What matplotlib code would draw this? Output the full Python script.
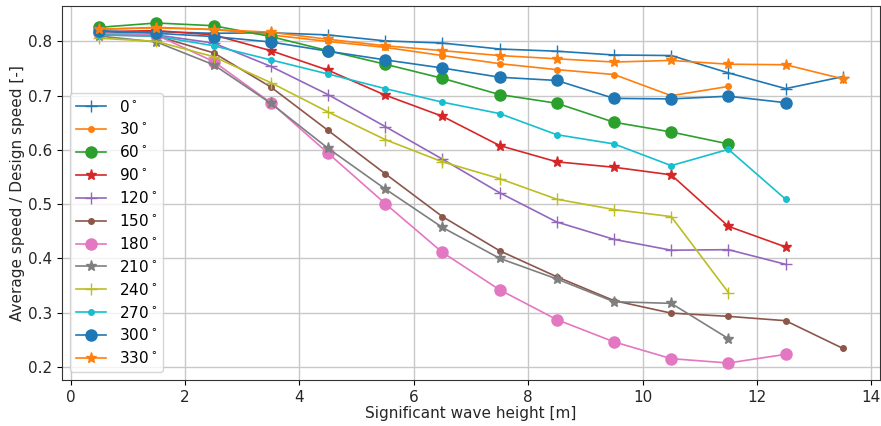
import numpy as np
import matplotlib
matplotlib.use("Agg")
import matplotlib.pyplot as plt

# significant wave height bins [m]
wave_height = [0.5, 1.5, 2.5, 3.5, 4.5, 5.5, 6.5, 7.5, 8.5, 9.5, 10.5, 11.5, 12.5, 13.5]

# average speed / design speed per heading
headings = [0, 30, 60, 90, 120, 150, 180, 210, 240, 270, 300, 330]

s0 = [0.815, 0.818, 0.815, 0.816, 0.812, 0.801, 0.797, 0.786, 0.782, 0.775, 0.774, 0.742, 0.713, 0.735]
s30 = [0.822, 0.826, 0.822, 0.812, 0.800, 0.789, 0.774, 0.759, 0.748, 0.739, 0.700, 0.717]
s60 = [0.826, 0.834, 0.829, 0.809, 0.783, 0.758, 0.732, 0.702, 0.686, 0.651, 0.633, 0.611]
s90 = [0.818, 0.820, 0.812, 0.783, 0.747, 0.701, 0.662, 0.608, 0.578, 0.568, 0.554, 0.459, 0.421]
s120 = [0.815, 0.812, 0.797, 0.754, 0.702, 0.643, 0.583, 0.521, 0.467, 0.435, 0.415, 0.416, 0.389]
s150 = [0.812, 0.810, 0.779, 0.716, 0.636, 0.556, 0.477, 0.414, 0.366, 0.322, 0.299, 0.293, 0.285, 0.234]
s180 = [0.815, 0.812, 0.763, 0.687, 0.594, 0.501, 0.411, 0.342, 0.287, 0.246, 0.215, 0.207, 0.223]
s210 = [0.810, 0.799, 0.757, 0.686, 0.603, 0.528, 0.457, 0.400, 0.362, 0.320, 0.317, 0.252]
s240 = [0.806, 0.800, 0.772, 0.724, 0.670, 0.619, 0.578, 0.547, 0.509, 0.490, 0.477, 0.337]
s270 = [0.812, 0.810, 0.792, 0.766, 0.740, 0.713, 0.688, 0.667, 0.628, 0.611, 0.571, 0.601, 0.509]
s300 = [0.820, 0.815, 0.809, 0.799, 0.782, 0.766, 0.751, 0.734, 0.728, 0.695, 0.694, 0.699, 0.687]
s330 = [0.823, 0.825, 0.822, 0.817, 0.804, 0.792, 0.783, 0.774, 0.768, 0.762, 0.765, 0.758, 0.757, 0.731]

series = [s0, s30, s60, s90, s120, s150, s180, s210, s240, s270, s300, s330]
markers = ['+', '.', 'o', '*']

fig = plt.figure(figsize=(8.81, 4.26), dpi=100)
ax = fig.add_axes([62/881, 46/426, 818/881, 374/426])

for i, (h, s) in enumerate(zip(headings, series)):
    ax.plot(wave_height[:len(s)], s, marker=markers[i % 4], markersize=8,
            lw=1.2, label=str(h) + r'$^\circ$')

ax.grid(True, color='#c8c8c8', lw=1.0)
ax.set_xlabel('Significant wave height [m]', fontsize=11, labelpad=1, color='#262626')
ax.set_ylabel('Average speed / Design speed [-]', fontsize=11, labelpad=2, color='#262626')
ax.tick_params(labelsize=11, labelcolor='#262626')
for sp in ax.spines.values():
    sp.set_color('#333333')
ax.legend(loc='lower left', fontsize=11, labelspacing=0.45)

fig.savefig('out.png', dpi=100)
